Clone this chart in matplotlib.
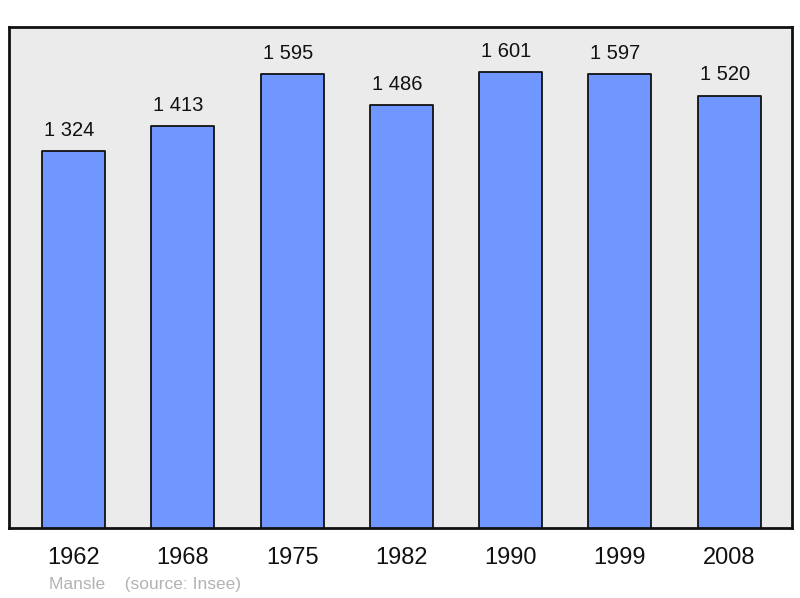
import matplotlib
matplotlib.use("Agg")
import matplotlib.pyplot as plt

years = ["1962", "1968", "1975", "1982", "1990", "1999", "2008"]
population = [1324, 1413, 1595, 1486, 1601, 1597, 1520]
value_labels = ["1 324", "1 413", "1 595", "1 486", "1 601", "1 597", "1 520"]
caption = "Mansle    (source: Insee)"

plt.rcParams['font.family'] = ['Liberation Sans', 'DejaVu Sans']

fig = plt.figure(figsize=(8, 5.98), dpi=100)
ax = fig.add_axes([0.01125, 0.1171, 0.97875, 0.8378])
ax.set_facecolor('#ebebeb')

x = list(range(len(years)))
bars = ax.bar(x, population, width=0.576, color='#7097ff', edgecolor='#111111',
              linewidth=1.3, zorder=3)
for b in bars:
    b.set_joinstyle('round')

for xi, v, lab in zip(x, population, value_labels):
    ax.annotate(lab, (xi, v), xytext=(-3.2, 8), textcoords='offset points',
                ha='center', va='bottom', fontsize=14.5, color='#111111')

ax.set_xlim(-0.59, 6.574)
ax.set_ylim(0, 1761)
ax.set_xticks(x)
ax.set_xticklabels(years, fontsize=17, color='#111111')
ax.tick_params(axis='x', length=0, pad=14)
ax.set_yticks([])
for s in ax.spines.values():
    s.set_linewidth(2)
    s.set_color('#111111')
    s.set_joinstyle('round')

fig.text(49 / 800, 1 - 585 / 598, caption, fontsize=12.5, color='#b3b3b3',
         ha='left', va='center')

fig.savefig('out.png', dpi=100)
